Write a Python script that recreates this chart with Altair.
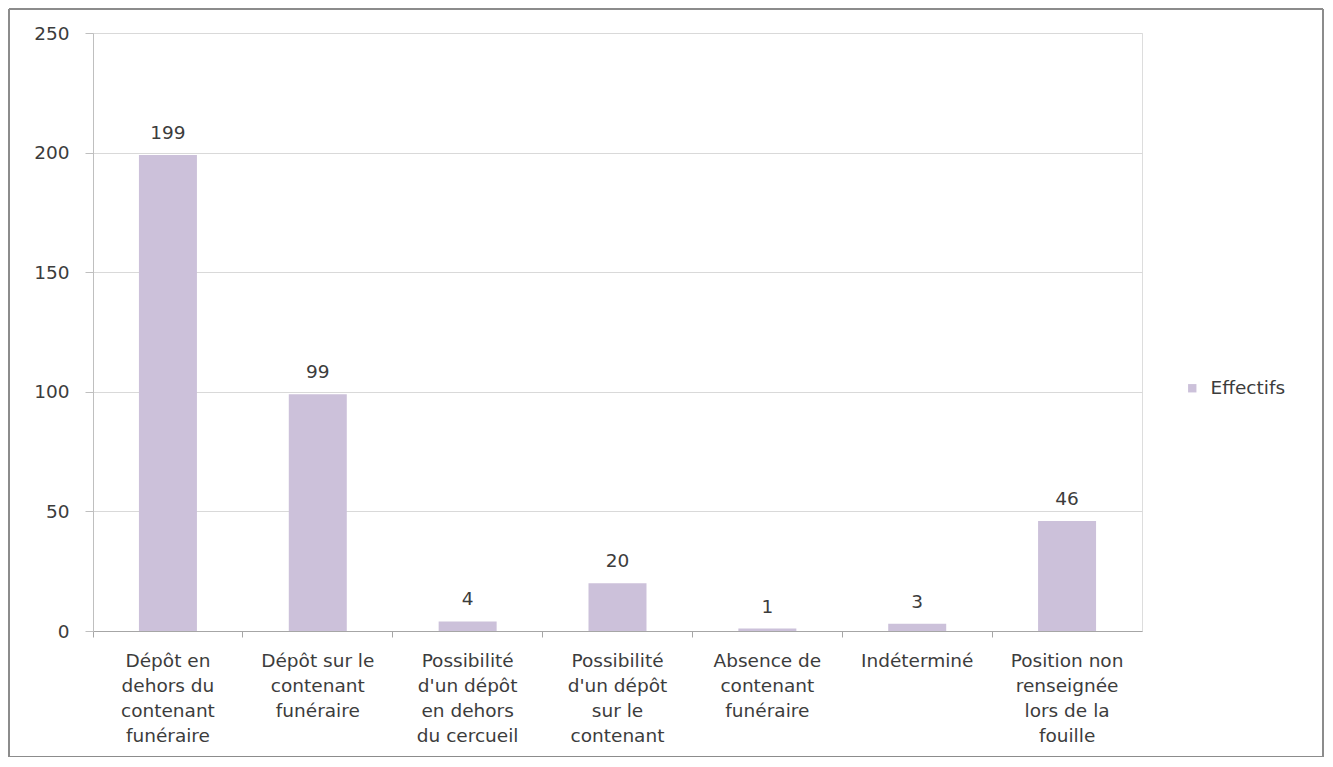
import altair as alt
import pandas as pd

labels = [
    "Dépôt en|dehors du|contenant|funéraire",
    "Dépôt sur le|contenant|funéraire",
    "Possibilité|d'un dépôt|en dehors|du cercueil",
    "Possibilité|d'un dépôt|sur le|contenant",
    "Absence de|contenant|funéraire",
    "Indéterminé",
    "Position non|renseignée|lors de la|fouille",
]
values = [199, 99, 4, 20, 1, 3, 46]
series = ["Effectifs"] * len(values)

df = pd.DataFrame({"cat": labels, "val": values, "serie": series})

FONT = "DejaVu Sans"
FS = 18.5
TXT = "#3c3c3c"
W, H = 1049, 598

x = alt.X("cat:N", sort=labels, title=None,
          scale=alt.Scale(paddingInner=0, paddingOuter=0),
          axis=alt.Axis(labelExpr="split(datum.label, '|')", labelAngle=0,
                        labelFont=FONT, labelFontSize=FS, labelColor=TXT,
                        labelLineHeight=25, labelPadding=14, labelBaseline="top",
                        domainColor="#a6a6a6", tickColor="#a6a6a6", tickSize=6,
                        bandPosition=0, grid=False, labelLimit=200))

bars = alt.Chart(df).mark_bar(width=alt.RelativeBandSize(0.387), color="#ccc1da").encode(
    x=x,
    y=alt.Y("val:Q", title=None,
            scale=alt.Scale(domain=[0, 250], nice=False),
            axis=alt.Axis(values=[0, 50, 100, 150, 200, 250], labelFont=FONT,
                          labelFontSize=FS, labelColor=TXT, labelPadding=16,
                          gridColor="#d9d9d9", domainColor="#bfbfbf", tickColor="#bfbfbf",
                          tickSize=8)),
    color=alt.Color("serie:N", scale=alt.Scale(range=["#ccc1da"]),
                    legend=alt.Legend(title=None, orient="none", legendX=1090, legendY=346,
                                      symbolType="square", symbolSize=70,
                                      labelFont=FONT, labelFontSize=FS, labelColor=TXT,
                                      labelOffset=9, symbolStrokeWidth=0)),
)

text = alt.Chart(df).mark_text(dy=-22, font=FONT, fontSize=FS, color=TXT).encode(
    x=alt.X("cat:N", sort=labels),
    y="val:Q",
    text="val:Q",
)

# outer chart frame (decoration)
L, T, R, B = -84, -24, 1230, 724
frame_x = [L, R, L, L]
frame_x2 = [R, R, L, R]
frame_y = [T, T, T, B]
frame_y2 = [T, B, B, B]
frame_parts = []
for a, b, c, d in zip(frame_x, frame_x2, frame_y, frame_y2):
    frame_parts.append(
        alt.Chart(pd.DataFrame({"k": [0]})).mark_rule(color="#8c8c8c", strokeWidth=2, clip=False).encode(
            x=alt.value(a), x2=alt.value(b), y=alt.value(c), y2=alt.value(d)
        )
    )

chart = alt.layer(*frame_parts, bars, text).properties(
    width=W, height=H,
    autosize=alt.AutoSizeParams(type="none"),
    padding={"left": 85, "top": 25, "right": 182, "bottom": 126},
).configure_view(stroke=None).configure(background="white")

chart.save("out.html", embed_options={"renderer": "svg", "actions": False})
